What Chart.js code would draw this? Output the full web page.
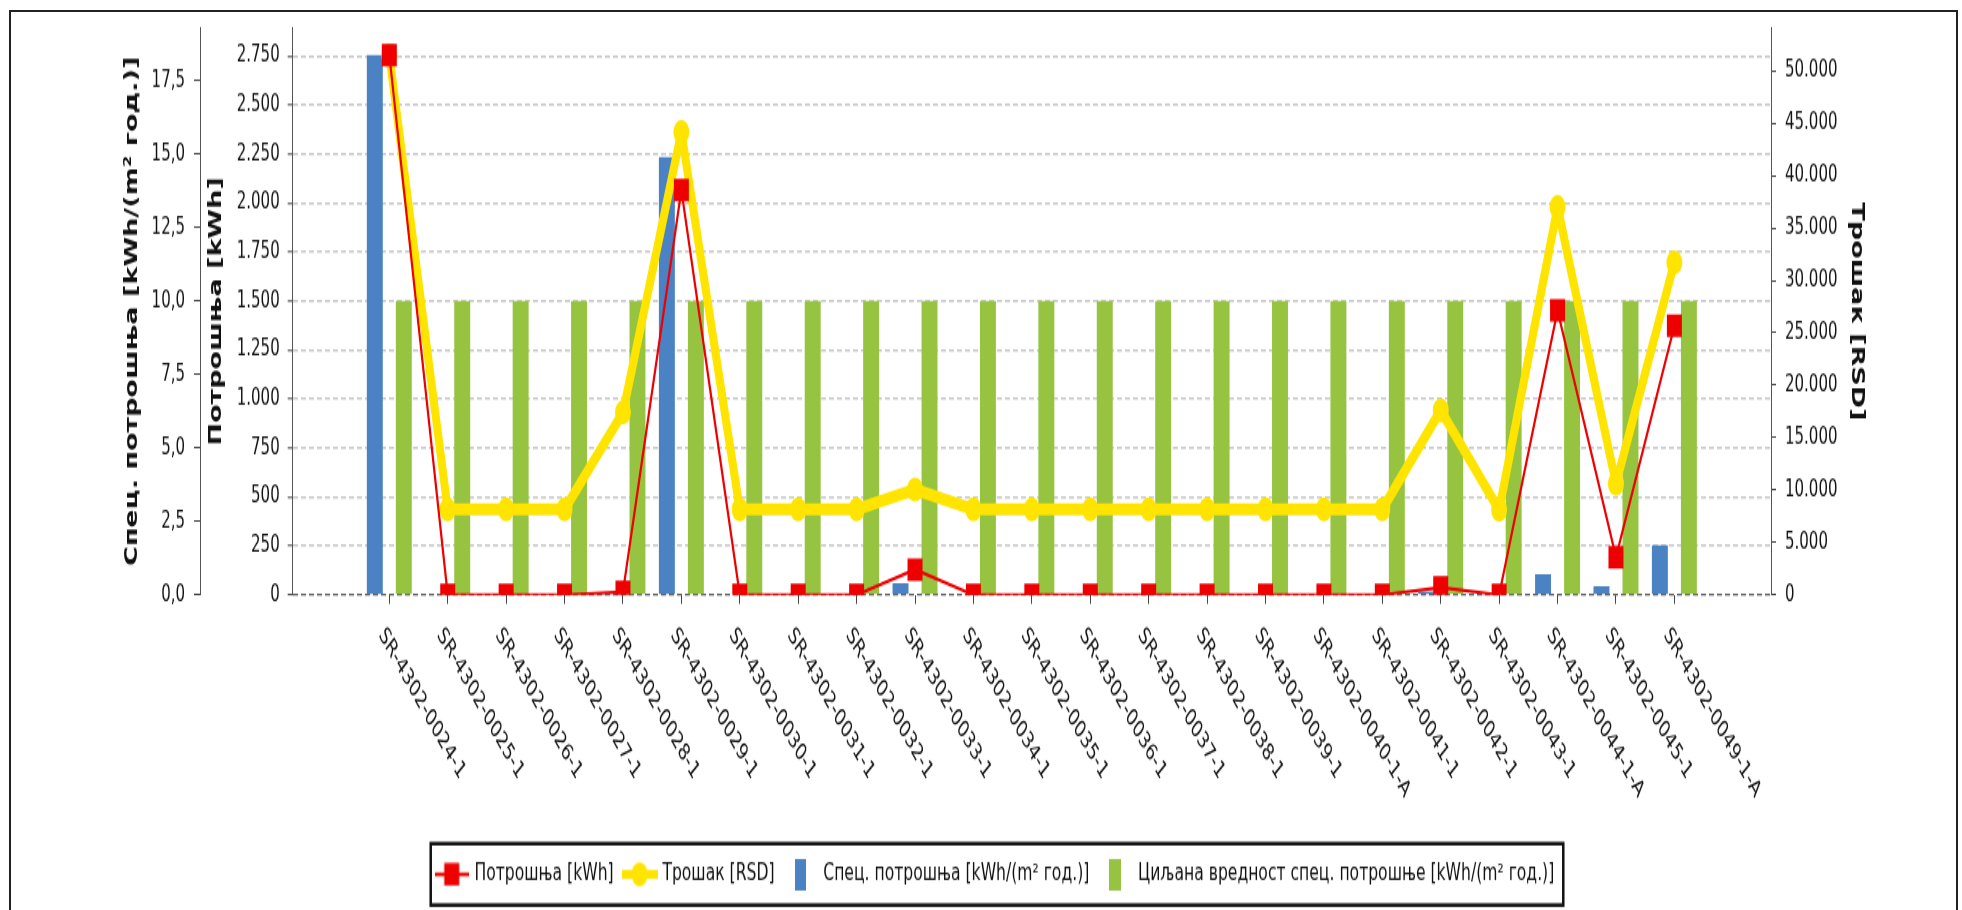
<!DOCTYPE html>
<html>
<head>
<meta charset="utf-8">
<script src="https://cdn.jsdelivr.net/npm/chart.js@4.4.1/dist/chart.umd.min.js"></script>
<style>
html, body { margin: 0; padding: 0; background: #fff; overflow: hidden; width: 1962px; height: 910px; }
#stage { position: absolute; left: 0; top: 0; width: 1962px; height: 607px; transform: scaleY(1.499176); transform-origin: 0 0; }
#frame { position: absolute; left: 9px; top: 10px; width: 1945px; height: 1000px; border: 2px solid #222; pointer-events: none; }
</style>
</head>
<body>
<div id="stage"><canvas id="c"></canvas></div>
<div id="frame"></div>
<script>
// ---------- data ----------
const categories = [
  'SR-4302-0024-1', 'SR-4302-0025-1', 'SR-4302-0026-1', 'SR-4302-0027-1', 'SR-4302-0028-1',
  'SR-4302-0029-1', 'SR-4302-0030-1', 'SR-4302-0031-1', 'SR-4302-0032-1', 'SR-4302-0033-1',
  'SR-4302-0034-1', 'SR-4302-0035-1', 'SR-4302-0036-1', 'SR-4302-0037-1', 'SR-4302-0038-1',
  'SR-4302-0039-1', 'SR-4302-0040-1-A', 'SR-4302-0041-1', 'SR-4302-0042-1', 'SR-4302-0043-1',
  'SR-4302-0044-1-A', 'SR-4302-0045-1', 'SR-4302-0049-1-A'
];
const consumptionKWh = [2757, 0, 0, 0, 15, 2068, 0, 0, 0, 129, 0, 0, 0, 0, 0, 0, 0, 0, 38, 0, 1452, 192, 1374];
const costRSD = [51500, 8150, 8150, 8150, 17400, 44150, 8150, 8150, 8150, 10050, 8150, 8150, 8150, 8150, 8150, 8150, 8150, 8150, 17600, 8100, 37000, 10600, 31700];
const specConsumption = [18.38, 0, 0, 0, 0.05, 14.9, 0, 0, 0, 0.39, 0, 0, 0, 0, 0, 0, 0, 0, 0.12, 0, 0.7, 0.29, 1.69];
const targetSpec = [10, 10, 10, 10, 10, 10, 10, 10, 10, 10, 10, 10, 10, 10, 10, 10, 10, 10, 10, 10, 10, 10, 10];

const seriesNames = [
  'Потрошња [kWh]',
  'Трошак [RSD]',
  'Спец. потрошња [kWh/(m² год.)]',
  'Циљана вредност спец. потрошње [kWh/(m² год.)]'
];
const axisTitles = {
  spec: 'Спец. потрошња [kWh/(m² год.)]',
  kwh: 'Потрошња [kWh]',
  rsd: 'Трошак [RSD]'
};
const tickSteps = { spec: 2.5, kwh: 250, rsd: 5000 };

// ---------- helpers ----------
const FONT = "'DejaVu Sans', sans-serif";
const thousands = v => String(Math.round(v)).replace(/\B(?=(\d{3})+(?!\d))/g, '.');
const toXY = arr => arr.map((v, i) => ({ x: i, y: v }));
const maxOf = arr => Math.max(...arr) * 1.05;
const stepTicks = step => s => {
  const t = [];
  for (let k = 0; k * step <= s.max + 1e-9; k++) t.push({ value: +(k * step).toFixed(6) });
  s.ticks = t;
};

const RED = '#ee0000', YELLOW = '#ffe400', BLUE = '#4a82c3', GREEN = '#96c440';

function makeIcon(w, h, draw) {
  const c = document.createElement('canvas');
  c.width = w; c.height = h;
  draw(c.getContext('2d'), w, h);
  return c;
}
const legendIcons = [
  makeIcon(34, 16, (g, w, h) => {
    g.strokeStyle = RED; g.lineWidth = 2.5;
    g.beginPath(); g.moveTo(0, h / 2); g.lineTo(w, h / 2); g.stroke();
    g.fillStyle = RED; g.fillRect(w / 2 - 7.5, h / 2 - 7.5, 15, 15);
  }),
  makeIcon(36, 18, (g, w, h) => {
    g.strokeStyle = YELLOW; g.lineWidth = 6;
    g.beginPath(); g.moveTo(0, h / 2); g.lineTo(w, h / 2); g.stroke();
    g.fillStyle = YELLOW; g.beginPath(); g.arc(w / 2, h / 2, 8, 0, Math.PI * 2); g.fill();
  }),
  makeIcon(11, 21, (g, w, h) => { g.fillStyle = BLUE; g.fillRect(0, 0, w, h); }),
  makeIcon(12, 21, (g, w, h) => { g.fillStyle = GREEN; g.fillRect(0, 0, w, h); })
];

const xLabelPlugin = {
  id: 'xLabels',
  afterDraw(chart) {
    const { ctx, chartArea } = chart;
    const xs = chart.scales.x;
    ctx.save();
    ctx.font = "15.6px " + FONT;
    ctx.fillStyle = '#111';
    ctx.textAlign = 'left';
    ctx.textBaseline = 'middle';
    categories.forEach((label, i) => {
      const px = xs.getPixelForValue(i);
      ctx.save();
      ctx.translate(px - 8, chartArea.bottom + 24.3);
      ctx.rotate(50 * Math.PI / 180);
      ctx.fillText(label, 0, 0);
      ctx.restore();
    });
    ctx.restore();
  }
};

const legendBoxPlugin = {
  id: 'legendBox',
  afterDraw(chart) {
    const lg = chart.legend;
    const hb = lg && lg.legendHitBoxes;
    if (!hb || !hb.length) return;
    const first = hb[0], last = hb[hb.length - 1];
    const cy = first.top + first.height / 2;
    const left = first.left - 6, right = last.left + last.width + 9;
    const ctx = chart.ctx;
    ctx.save();
    ctx.strokeStyle = '#111';
    ctx.lineWidth = 2.5;
    ctx.strokeRect(left, cy - 20.5, right - left, 41);
    ctx.restore();
  }
};

Chart.defaults.font.family = FONT;
Chart.defaults.color = '#111';

const tickFont = { family: FONT, size: 15 };
const titleFont = { family: FONT, size: 18, weight: 'bold' };

new Chart(document.getElementById('c'), {
  type: 'bar',
  data: {
    datasets: [
      {
        type: 'line', label: seriesNames[0], data: toXY(consumptionKWh), yAxisID: 'yK', xAxisID: 'x',
        borderColor: RED, backgroundColor: RED, borderWidth: 2.2,
        pointStyle: 'rect', pointRadius: 10.6, pointBorderWidth: 0, pointBackgroundColor: RED,
        borderJoinStyle: 'round', tension: 0, order: 0
      },
      {
        type: 'line', label: seriesNames[1], data: toXY(costRSD), yAxisID: 'yR', xAxisID: 'x',
        borderColor: YELLOW, backgroundColor: YELLOW, borderWidth: 8,
        pointStyle: 'circle', pointRadius: 8, pointBorderWidth: 0, pointBackgroundColor: YELLOW,
        borderJoinStyle: 'round', borderCapStyle: 'round', tension: 0, order: 1
      },
      {
        type: 'bar', label: seriesNames[2], data: toXY(specConsumption), yAxisID: 'yS', xAxisID: 'x',
        backgroundColor: BLUE, borderWidth: 0, categoryPercentage: 0.993, barPercentage: 0.55, order: 2
      },
      {
        type: 'bar', label: seriesNames[3], data: toXY(targetSpec), yAxisID: 'yS', xAxisID: 'x',
        backgroundColor: GREEN, borderWidth: 0, categoryPercentage: 0.993, barPercentage: 0.55, order: 3
      }
    ]
  },
  options: {
    responsive: true,
    maintainAspectRatio: false,
    animation: false,
    events: [],
    layout: { padding: { left: 41, right: 12, top: 18.68, bottom: 6 } },
    plugins: {
      tooltip: { enabled: false },
      legend: {
        position: 'bottom',
        labels: {
          usePointStyle: true,
          pointStyleWidth: 30,
          padding: 11,
          color: '#111',
          font: { family: FONT, size: 15.6 },
          generateLabels: chart => chart.data.datasets.map((ds, i) => ({
            text: ds.label, pointStyle: legendIcons[i], fillStyle: 'transparent',
            strokeStyle: 'transparent', lineWidth: 0, hidden: false, datasetIndex: i, fontColor: '#111'
          }))
        }
      }
    },
    scales: {
      x: {
        type: 'linear', position: 'bottom', offset: false,
        min: -1.654, max: categories.length - 1 + 1.654,
        afterBuildTicks: s => { s.ticks = categories.map((_, i) => ({ value: i })); },
        afterFit: s => { s.height = 167.65; },
        ticks: { display: false },
        grid: { display: true, offset: false, drawOnChartArea: false, drawTicks: true, tickLength: 6, tickColor: '#444', lineWidth: 1 },
        border: { display: false }
      },
      yS: {
        type: 'linear', position: 'left', weight: 1,
        min: 0, max: maxOf(specConsumption),
        afterBuildTicks: stepTicks(tickSteps.spec),
        afterFit: s => { s.width = 159; },
        ticks: { font: tickFont, color: '#111', padding: 9,
                 callback: v => v.toFixed(1).replace('.', ',') },
        grid: { drawOnChartArea: false, drawTicks: true, tickLength: 6, tickColor: '#444', lineWidth: 1 },
        border: { display: true, color: '#555', width: 1 },
        title: { display: true, text: axisTitles.spec, font: titleFont, color: '#111', padding: { top: 80.7, bottom: 0 } }
      },
      yK: {
        type: 'linear', position: 'left', weight: 0,
        min: 0, max: maxOf(consumptionKWh),
        afterBuildTicks: stepTicks(tickSteps.kwh),
        afterFit: s => { s.width = 92.7; },
        ticks: { font: tickFont, color: '#111', padding: 8,
                 callback: v => thousands(v) },
        grid: {
          drawOnChartArea: true, drawTicks: true, tickLength: 5,
          color: c => (c.tick && c.tick.value === 0) ? '#666' : '#c8c8c8',
          lineWidth: c => (c.tick && c.tick.value === 0) ? 1.2 : 1.6,
          tickColor: '#444', tickWidth: 1, tickBorderDash: []
        },
        border: { display: true, color: '#555', width: 1, dash: [5, 3] },
        title: { display: true, text: axisTitles.kwh, font: titleFont, color: '#111', padding: { top: 5.9, bottom: 0 } }
      },
      yR: {
        type: 'linear', position: 'right', weight: 0,
        min: 0, max: maxOf(costRSD),
        afterBuildTicks: stepTicks(tickSteps.rsd),
        afterFit: s => { s.width = 179; },
        ticks: { font: tickFont, color: '#111', padding: 9,
                 callback: v => thousands(v) },
        grid: { drawOnChartArea: false, drawTicks: true, tickLength: 5, tickColor: '#444', lineWidth: 1 },
        border: { display: true, color: '#555', width: 1 },
        title: { display: true, text: axisTitles.rsd, font: titleFont, color: '#111', padding: { top: 82.7, bottom: 0 } }
      }
    }
  },
  plugins: [xLabelPlugin, legendBoxPlugin]
});
</script>
</body>
</html>
